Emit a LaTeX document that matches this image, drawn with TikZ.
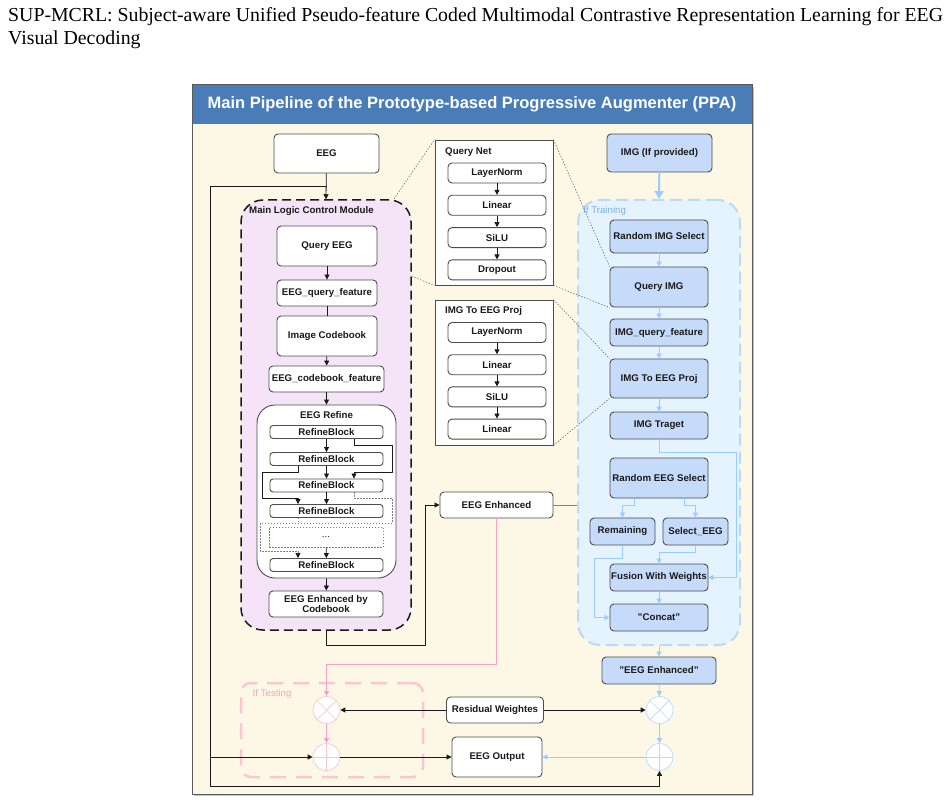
\documentclass[tikz,border=0pt]{standalone}
\usepackage{fontspec}
\setmainfont{Liberation Serif}
\setsansfont{Liberation Sans}
\usepackage{tikz}
\usetikzlibrary{arrows.meta,positioning}
\definecolor{ppHeader}{HTML}{4A7DB8}
\definecolor{ppPaper}{HTML}{FDF8E6}
\definecolor{ppFrame}{HTML}{5A5A5A}
\definecolor{ppInk}{HTML}{1A1A1A}
\definecolor{ppEdge}{HTML}{4D4D4D}
\definecolor{ppLilac}{HTML}{F5E4F8}
\definecolor{ppBlue}{HTML}{C6DBFA}
\definecolor{ppSky}{HTML}{99CCFF}
\definecolor{ppSkyFill}{HTML}{E4F3FD}
\definecolor{ppSkyLine}{HTML}{BBDAF8}
\definecolor{ppSkyText}{HTML}{7EB0E0}
\definecolor{ppPink}{HTML}{F4A3C8}
\definecolor{ppPinkLine}{HTML}{F9C6D2}
\definecolor{ppGray}{HTML}{7F7F7F}
\tikzset{
  pp diagram/.style={x=1pt, y=-1pt, font=\sffamily\bfseries\fontsize{9.7}{10.8}\selectfont,
    text=ppInk, line join=round},
  pp box/.style={draw=ppEdge, fill=white, line width=0.9pt,
    rounded corners=4pt, align=center, inner sep=0pt},
  pp img box/.style={pp box, fill=ppBlue},
  pp plain box/.style={draw=ppEdge, fill=white, line width=0.9pt, inner sep=0pt},
  pp line/.style={draw=ppInk, line width=0.8pt},
  pp arrow/.style={-{Triangle[length=5pt,width=5pt]}, draw=ppInk, line width=0.8pt},
  pp sky arrow/.style={-{Triangle[length=5pt,width=5pt]}, draw=ppSky, line width=0.8pt},
  pp pink arrow/.style={-{Triangle[length=5pt,width=5pt]}, draw=ppPink, line width=0.8pt},
  pp zoom/.style={draw=ppInk!70, line width=0.5pt, dash pattern=on 1.5pt off 1.5pt},
  pp op/.style={circle, minimum size=27pt, inner sep=0pt, fill=white, line width=0.7pt},
  pp label/.style={anchor=west, inner sep=0pt},
  pp soft label/.style={pp label, font=\sffamily\fontsize{9.7}{10.8}\selectfont}
}
\begin{document}
\begin{tikzpicture}[pp diagram]
\useasboundingbox (0,0) rectangle (949,802);
\node[anchor=base west, inner sep=0pt, text=black, font=\rmfamily\fontsize{19.8}{24}\selectfont] (paper title) at (8,21.7) {SUP-MCRL: Subject-aware Unified Pseudo-feature Coded Multimodal Contrastive Representation Learning for EEG};
\node[anchor=base west, inner sep=0pt, text=black, font=\rmfamily\fontsize{19.8}{24}\selectfont] (paper title 2) at (8,45) {Visual Decoding};

\fill[ppGray!45] (194,87) rectangle (754,796);
\draw[draw=ppFrame, fill=ppPaper, line width=1pt] (192,85) rectangle (752,794);
\fill[ppHeader] (192,85) rectangle (752,124);
\draw[draw=ppFrame, line width=1pt] (192,85) rectangle (752,794);
\node[text=white, font=\sffamily\bfseries\fontsize{16.5}{18}\selectfont] (header) at (472,104.5) {Main Pipeline of the Prototype-based Progressive Augmenter (PPA)};

\node[draw=ppInk, fill=ppLilac, line width=1.5pt, dash pattern=on 9pt off 5pt, rounded corners=22pt,
  minimum width=170pt, minimum height=430pt] (logic) at (326,415) {};
\node[pp label] (logic title) at (249,211) {Main Logic Control Module};
\node[draw=ppSkyLine, fill=ppSkyFill, line width=2pt, dash pattern=on 12pt off 6pt, rounded corners=22pt,
  minimum width=162pt, minimum height=445pt] (training) at (659,422.5) {};
\node[pp soft label, text=ppSkyText] (training title) at (583,211) {If Training};
\node[draw=ppPinkLine, line width=2.5pt, dash pattern=on 16pt off 10pt, rounded corners=10pt,
  minimum width=182pt, minimum height=94pt] (testing) at (332,730) {};
\node[pp soft label, text=ppPink] (testing title) at (252.5,694) {If Testing};

\node[pp plain box, minimum width=118pt, minimum height=145pt] (qnet) at (494,212.5) {};
\node[pp label] (qnet title) at (445,152) {Query Net};
\node[pp plain box, minimum width=118pt, minimum height=145pt] (pnet) at (494,372.5) {};
\node[pp label] (pnet title) at (445,311) {IMG To EEG Proj};
\foreach \lbl [count=\i] in {LayerNorm,Linear,SiLU,Dropout}
  \node[pp box, minimum width=98pt, minimum height=20pt] (qn\i) at (497,173+32.3*\i-32.3) {\lbl};
\foreach \lbl [count=\i] in {LayerNorm,Linear,SiLU,Linear}
  \node[pp box, minimum width=98pt, minimum height=20pt] (pn\i) at (497,332.5+32.2*\i-32.2) {\lbl};

\node[pp box, minimum width=105pt, minimum height=39pt] (eeg) at (326.5,153.5) {EEG};
\node[pp box, minimum width=100pt, minimum height=40pt] (qeeg) at (327,246) {Query EEG};
\node[pp box, minimum width=100pt, minimum height=26pt] (eqf) at (327,293) {EEG\_query\_feature};
\node[pp box, minimum width=100pt, minimum height=40pt] (icb) at (327,336) {Image Codebook};
\node[pp box, minimum width=115pt, minimum height=26pt] (ecf) at (326.5,379) {EEG\_codebook\_feature};
\node[pp box, rounded corners=18pt, minimum width=139pt, minimum height=173pt] (refine) at (326.5,491.5) {};
\node (refine title) at (326.5,415) {EEG Refine};
\foreach \y [count=\i] in {432,459,485.5,511}
  \node[pp box, rounded corners=3pt, minimum width=113pt, minimum height=13pt] (rb\i) at (326.5,\y) {RefineBlock};
\node[draw=ppGray, line width=0.6pt, dash pattern=on 1.5pt off 1.5pt, minimum width=114pt, minimum height=20pt,
  inner sep=0pt, font=\sffamily\fontsize{9.7}{10.8}\selectfont] (dots) at (326,537) {...};
\node[pp box, rounded corners=3pt, minimum width=113pt, minimum height=13pt] (rb5) at (326.5,565) {RefineBlock};
\node[pp box, minimum width=114pt, minimum height=26pt] (ecb) at (326,604) {EEG Enhanced by\\Codebook};

\node[pp box, minimum width=113pt, minimum height=26pt] (enh) at (496.5,505) {EEG Enhanced};
\node[pp box, minimum width=97pt, minimum height=26pt] (rw) at (495,710) {Residual Weightes};
\node[pp box, minimum width=90pt, minimum height=40pt] (out) at (497,757) {EEG Output};
\node[pp op, draw=ppPinkLine] (otL) at (326.5,710) {};
\node[pp op, draw=ppPinkLine] (opL) at (326.5,757) {};
\node[pp op, draw=ppSkyLine] (otR) at (659.5,710) {};
\node[pp op, draw=ppSkyLine] (opR) at (659.5,757) {};
\foreach \o/\c in {otL/ppPinkLine,otR/ppSkyLine}
  \draw[\c, line width=0.7pt] (\o.north west) -- (\o.south east) (\o.north east) -- (\o.south west);
\foreach \o/\c in {opL/ppPinkLine,opR/ppSkyLine}
  \draw[\c, line width=0.7pt] (\o.north) -- (\o.south) (\o.west) -- (\o.east);

\node[pp img box, minimum width=105pt, minimum height=38pt] (imgp) at (659.5,153) {IMG (If provided)};
\node[pp img box, minimum width=98pt, minimum height=33pt] (rimg) at (659,236.5) {Random IMG Select};
\node[pp img box, minimum width=98pt, minimum height=40pt] (qimg) at (659,287) {Query IMG};
\node[pp img box, minimum width=98pt, minimum height=27pt] (iqf) at (659,332.5) {IMG\_query\_feature};
\node[pp img box, minimum width=98pt, minimum height=39pt] (proj) at (659,378.5) {IMG To EEG Proj};
\node[pp img box, minimum width=98pt, minimum height=27pt] (target) at (659,425.5) {IMG Traget};
\node[pp img box, minimum width=98pt, minimum height=40pt] (rsel) at (659,478) {Random EEG Select};
\node[pp img box, minimum width=65pt, minimum height=27pt] (remain) at (622.5,531.5) {Remaining};
\node[pp img box, minimum width=65pt, minimum height=27pt] (seleeg) at (695.5,531.5) {Select\_EEG};
\node[pp img box, minimum width=98pt, minimum height=27pt] (fusion) at (659,577.5) {Fusion With Weights};
\node[pp img box, minimum width=98pt, minimum height=27pt] (concat) at (659,617.5) {"Concat"};
\node[pp img box, minimum width=114pt, minimum height=27pt] (enhR) at (659,670.5) {"EEG Enhanced"};

\draw[pp zoom] ([xshift=-18pt]logic.north east) -- (qnet.north west);
\draw[pp zoom] ([yshift=-77pt]logic.north east) -- (qnet.south west);
\draw[pp zoom] (qnet.north east) -- (qimg.north west);
\draw[pp zoom] (qnet.south east) -- (qimg.south west);
\draw[pp zoom] (pnet.north east) -- (proj.north west);
\draw[pp zoom] (pnet.south east) -- (proj.south west);
\foreach \i/\j in {1/2,2/3,3/4} {
  \draw[pp arrow] (qn\i) -- (qn\j);
  \draw[pp arrow] (pn\i) -- (pn\j);
}

\draw[pp arrow] (eeg) -- (logic.north);
\draw[pp arrow] (eeg.south |- 0,186) -- (210,186) -- (210,786) -| (opR.south);
\draw[pp arrow] (210,757) -- (opL);
\draw[pp arrow] (qeeg) -- (eqf);
\draw[pp line] (eqf) -- (icb);
\draw[pp arrow] (icb) -- (ecf);
\draw[pp arrow] (ecf) -- (refine.north);
\foreach \i/\j in {1/2,2/3,3/4}
  \draw[pp arrow] (rb\i) -- (rb\j);
\draw[pp arrow] (dots) -- (rb5);
\draw[pp arrow] ([xshift=27.5pt]rb1.south) -- ++(0,6) -| ++(38,27) -| ([xshift=27.5pt]rb3.north);
\draw[pp arrow] ([xshift=-28.5pt]rb2.south) -- ++(0,6) -| ++(-36,26) -| ([xshift=-28.5pt]rb4.north);
\draw[-{Triangle[length=5pt,width=5pt,color=ppInk]}, draw=ppGray, line width=0.6pt, dash pattern=on 1.5pt off 1.5pt]
  ([xshift=27.5pt]rb3.south) -- ++(0,6) -| ++(38,25) -- ++(-132,0) -- ++(0,28) -| ([xshift=-28.5pt]rb5.north);
\draw[draw=ppGray, line width=0.6pt, dash pattern=on 1.5pt off 1.5pt] ([xshift=-28.5pt]rb4.south) -- ++(0,5);
\draw[pp arrow] (refine.south) -- (ecb);
\draw[pp arrow] (logic.south) |- ++(99,15) |- (enh.west);
\draw[pp line, draw=ppGray] (enh.east) -- (enh.east -| training.west);

\draw[-{Triangle[length=8pt,width=9pt]}, draw=ppSky, line width=2pt] (imgp) -- (training.north);
\foreach \a/\b in {rimg/qimg,qimg/iqf,iqf/proj,proj/target,fusion/concat}
  \draw[pp sky arrow] (\a) -- (\b);
\draw[pp sky arrow] (target.south) |- ++(77,13) |- (fusion.east);
\draw[pp sky arrow] ([xshift=-25pt]rsel.south) -- ++(0,7) -| (remain.north);
\draw[pp sky arrow] ([xshift=25pt]rsel.south) -- ++(0,7) -| (seleeg.north);
\draw[pp sky arrow] (seleeg.south) -- ++(0,7) -| (fusion.north);
\draw[pp sky arrow] (remain.south) |- ++(-28.5,13) |- (concat.west);
\draw[pp sky arrow] (training.south) -- (enhR);
\draw[pp sky arrow] (enhR) -- (otR);
\draw[pp sky arrow] (otR) -- (opR);
\draw[pp sky arrow] (opR) -- (out);

\draw[pp pink arrow] (enh.south) -- ++(0,146) -| (otL.north);
\draw[pp pink arrow] (otL) -- (opL);
\draw[pp arrow] (opL) -- (out);
\draw[pp arrow] (rw) -- (otL);
\draw[pp arrow] (rw) -- (otR);
\end{tikzpicture}
\end{document}
